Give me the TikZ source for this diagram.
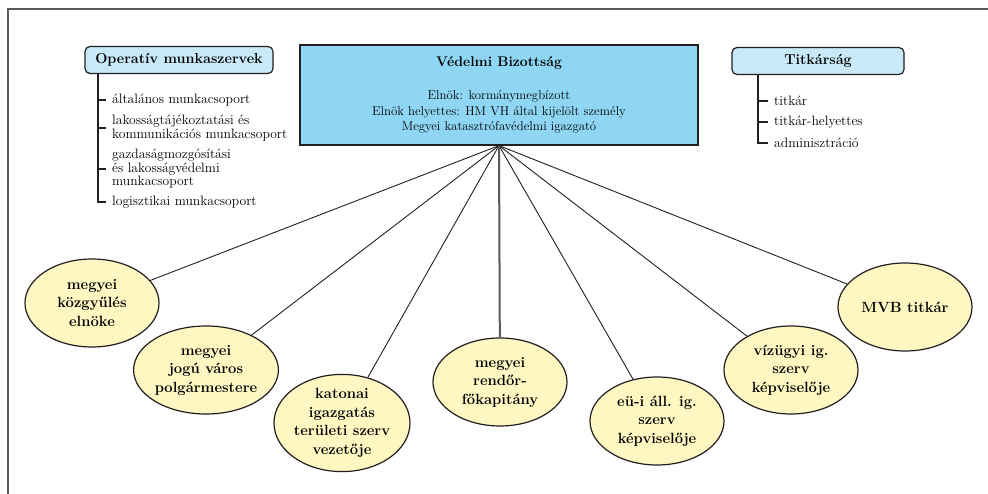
\documentclass[tikz,border=0pt]{standalone}
\usepackage{fontspec}
\usetikzlibrary{shapes.geometric}
\definecolor{vbblue}{HTML}{8ED6F4}
\definecolor{hdblue}{HTML}{C8EAF8}
\definecolor{elyellow}{HTML}{FFF7C2}
\definecolor{framegray}{HTML}{5A5A5A}
\definecolor{ink}{HTML}{231F20}
\begin{document}
\begin{tikzpicture}[x=1pt,y=-1pt,
	hdbox/.style={draw=ink,line width=1.2pt,fill=hdblue,rounded corners=5pt,minimum height=27pt,inner sep=0pt,font=\fontsize{14.4}{16}\selectfont\bfseries},
	member/.style={ellipse,draw=ink,line width=1.2pt,fill=elyellow,minimum width=134pt,minimum height=88pt,inner sep=0pt,align=center,font=\fontsize{14.8}{18.5}\selectfont\bfseries},
	item/.style={anchor=west,align=left,inner sep=0pt,font=\fontsize{13.6}{13.5}\selectfont}]
	\useasboundingbox (0,0) rectangle (988,494);
	\draw[framegray,line width=1.5pt](8,494)--(8,9)--(988,9);
	% Vedelmi Bizottsag
	\node[draw=ink,line width=1.2pt,fill=vbblue,minimum width=398pt,minimum height=100pt] (vb) at (499,95) {};
	\node[font=\fontsize{14}{16}\selectfont\bfseries] (vbtitle) at (499,63) {Védelmi Bizottság};
	\node[align=center,font=\fontsize{12.8}{15.5}\selectfont] (vbtext) at (499,112) {Elnök: kormánymegbízott\\Elnök helyettes: HM VH által kijelölt személy\\Megyei katasztrófavédelmi igazgató};
	% operativ munkaszervek
	\node[hdbox,minimum width=188pt] (op) at (179,60) {Operatív munkaszervek};
	\node[item] (op1) at (112,100) {általános munkacsoport};
	\node[item] (op2) at (112,128) {lakosságtájékoztatási és\\kommunikációs munkacsoport};
	\node[item] (op3) at (112,169) {gazdaságmozgósítási\\és lakosságvédelmi\\munkacsoport};
	\node[item] (op4) at (112,202) {logisztikai munkacsoport};
	\draw[ink,line width=1.2pt](op.south -| 98,0)|-([xshift=-6pt]op4.west);
	\foreach \i in {1,2,3}
		\draw[ink,line width=1.2pt]([xshift=-14pt]op\i.west)--([xshift=-6pt]op\i.west);
	% titkarsag
	\node[hdbox,minimum width=172pt] (tk) at (818,61) {Titkárság};
	\node[item] (tk1) at (774,101) {titkár};
	\node[item] (tk2) at (774,122) {titkár-helyettes};
	\node[item] (tk3) at (774,143) {adminisztráció};
	\draw[ink,line width=1.2pt](tk.south -| 758,0)|-([xshift=-6pt]tk3.west);
	\foreach \i in {1,2}
		\draw[ink,line width=1.2pt]([xshift=-16pt]tk\i.west)--([xshift=-6pt]tk\i.west);
	% tagok
	\node[member] (e1) at (92,303) {megyei\\közgyűlés\\elnöke};
	\node[member] (e2) at (206,370) {megyei\\jogú város\\polgármestere};
	\node[member] (e3) at (342,423) {katonai\\igazgatás\\területi szerv\\vezetője};
	\node[member] (e4) at (500,382) {megyei\\rendőr-\\főkapitány};
	\node[member] (e5) at (657,421) {eü-i áll. ig.\\szerv\\képviselője};
	\node[member] (e6) at (791,370) {vízügyi ig.\\szerv\\képviselője};
	\node[member] (e7) at (905,307) {MVB titkár};
	\coordinate (hub) at (vb.south);
	\foreach \e in {e1,e2,e3,e5,e6,e7}
		\draw[ink,line width=0.9pt](hub)--(\e);
	\draw[framegray,line width=2pt](hub)--(e4);
\end{tikzpicture}
\end{document}
